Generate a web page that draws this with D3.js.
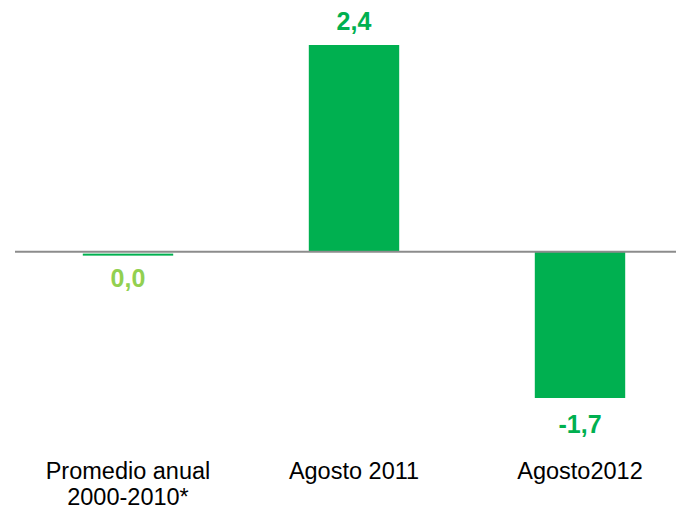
<!DOCTYPE html>
<html>
<head>
<meta charset="utf-8">
<script src="https://cdn.jsdelivr.net/npm/d3@7"></script>
<style>
  body { margin: 0; background: #fff; }
  text { font-family: Arial, "Liberation Sans", sans-serif; }
</style>
</head>
<body>
<script>
var w = 677;
var h = 509;

// data
var categories = ["Promedio anual\n2000-2010*", "Agosto 2011", "Agosto2012"];
var values = [0.0, 2.4, -1.7];
var valueLabels = ["0,0", "2,4", "-1,7"];
var labelColors = ["#92D050", "#00B050", "#00B050"];

var svg = d3.select("body")
            .append("svg")
            .attr("width", w)
            .attr("height", h);

var x = d3.scaleBand()
          .domain(categories)
          .range([15, 693])
          .paddingInner(0.6)
          .paddingOuter(0.3);

var y = d3.scaleLinear()
          .domain([-1.7, 2.4])
          .range([398, 45]);

// bars (a zero value still shows as a thin strip just under the axis)
svg.selectAll(".bar")
   .data(values)
   .enter()
   .append("rect")
   .attr("class", "bar")
   .attr("x", function(d, i) { return x(categories[i]); })
   .attr("y", function(d) {
     if (Math.abs(y(d) - y(0)) < 2) return y(0) + 2;
     return Math.min(y(d), y(0));
   })
   .attr("width", x.bandwidth())
   .attr("height", function(d) { return Math.max(Math.abs(y(d) - y(0)), 2); })
   .attr("fill", "#00B050");

// zero line
svg.append("line")
   .attr("x1", 15)
   .attr("x2", 676)
   .attr("y1", y(0))
   .attr("y2", y(0))
   .attr("stroke", "#8C8C8C")
   .attr("stroke-width", 2);

// value labels
svg.selectAll(".val")
   .data(values)
   .enter()
   .append("text")
   .attr("class", "val")
   .attr("x", function(d, i) { return x(categories[i]) + x.bandwidth() / 2; })
   .attr("y", function(d) { return d > 0 ? y(d) - 15 : y(Math.min(d, 0)) + 35; })
   .attr("text-anchor", "middle")
   .attr("font-size", 25)
   .attr("font-weight", "bold")
   .attr("fill", function(d, i) { return labelColors[i]; })
   .text(function(d, i) { return valueLabels[i]; });

// category labels
var cat = svg.selectAll(".cat")
   .data(categories)
   .enter()
   .append("text")
   .attr("class", "cat")
   .attr("text-anchor", "middle")
   .attr("font-size", 23.5)
   .attr("fill", "#000");

cat.selectAll("tspan")
   .data(function(d) { return d.split("\n").map(function(s) { return { s: s, c: d }; }); })
   .enter()
   .append("tspan")
   .attr("x", function(d) { return x(d.c) + x.bandwidth() / 2; })
   .attr("y", function(d, i) { return 479 + i * 26; })
   .text(function(d) { return d.s; });
</script>
</body>
</html>
